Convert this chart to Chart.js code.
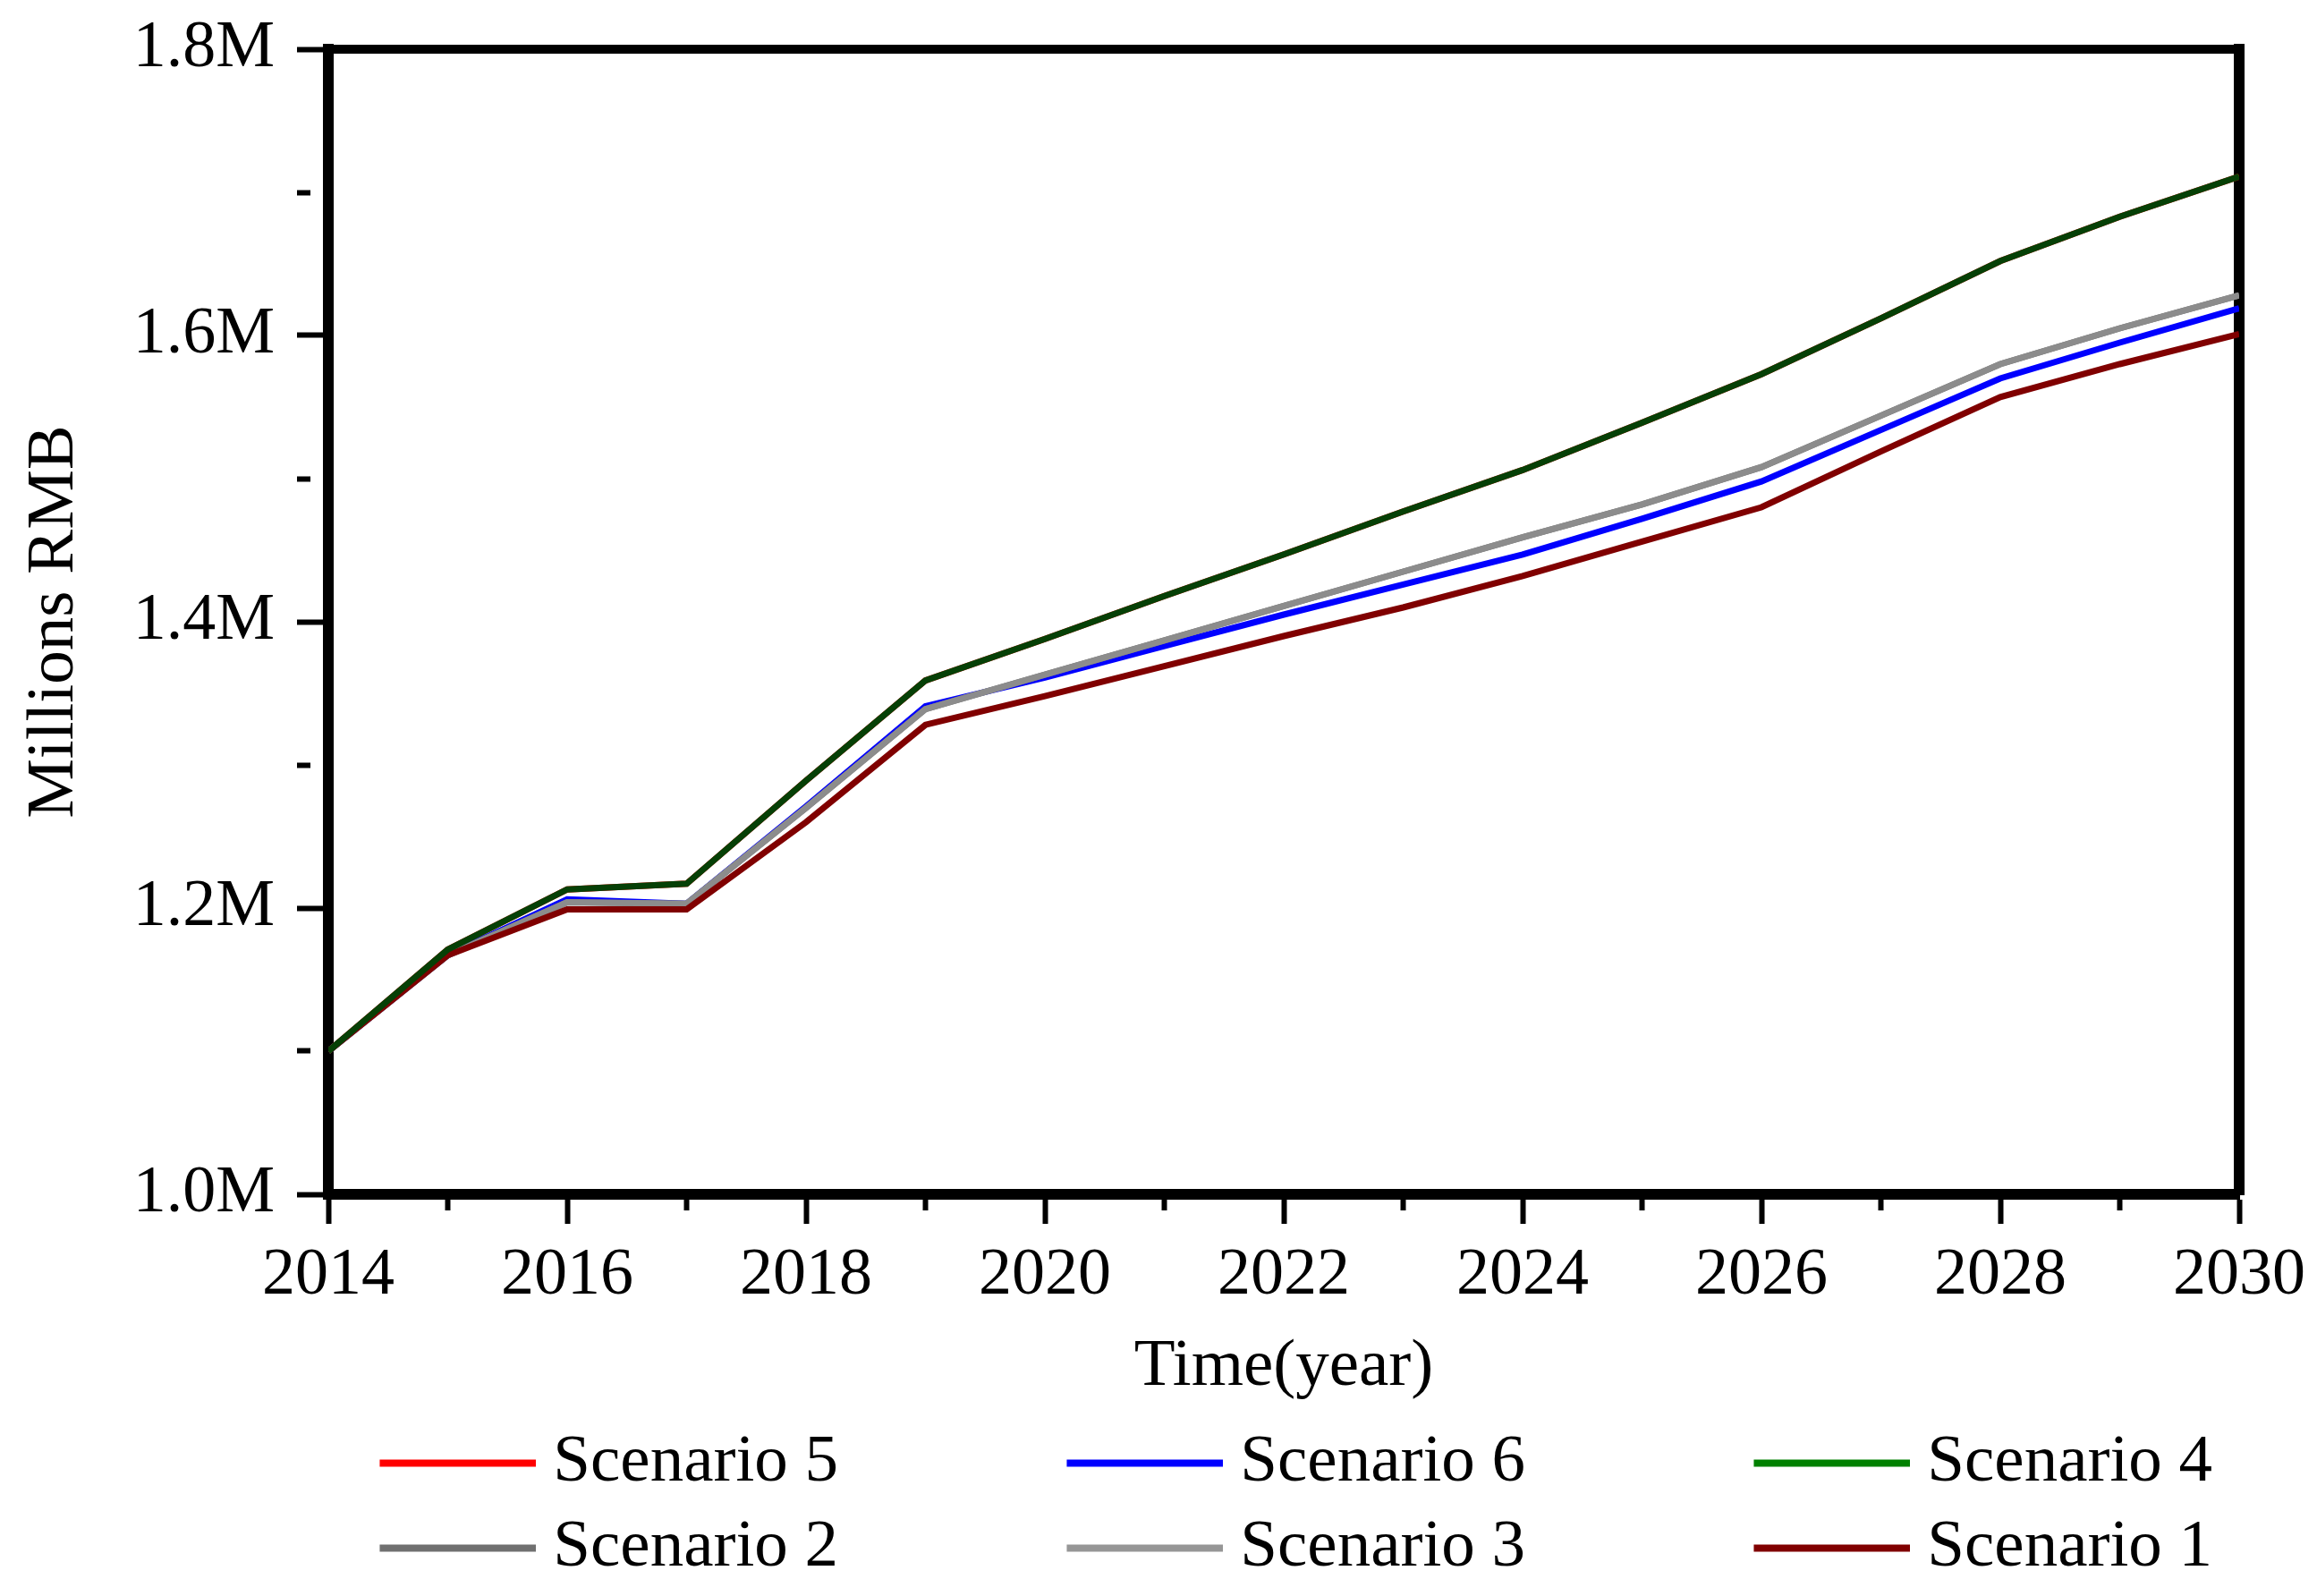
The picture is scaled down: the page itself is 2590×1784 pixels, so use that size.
<!DOCTYPE html>
<html>
<head>
<meta charset="utf-8">
<script src="https://cdn.jsdelivr.net/npm/chart.js@4.4.1/dist/chart.umd.min.js"></script>
<style>
html,body{margin:0;padding:0;background:#ffffff;}
#wrap{width:2590px;height:1784px;}
</style>
</head>
<body>
<div id="wrap"><canvas id="c" width="2590" height="1784"></canvas></div>
<script>
// ---------- data ----------
const years = [2014,2015,2016,2017,2018,2019,2020,2021,2022,2023,2024,2025,2026,2027,2028,2029,2030];

const scenario4 = [1.100,1.171,1.213,1.217,1.289,1.359,1.388,1.418,1.447,1.477,1.506,1.539,1.573,1.612,1.652,1.683,1.711];
const scenario5 = [1.100,1.171,1.213,1.217,1.289,1.359,1.388,1.418,1.447,1.477,1.506,1.539,1.573,1.612,1.652,1.683,1.711];
const scenario3 = [1.100,1.167,1.204,1.203,1.270,1.339,1.363,1.387,1.411,1.435,1.459,1.482,1.508,1.544,1.580,1.605,1.628];
const scenario2 = [1.100,1.167,1.204,1.203,1.270,1.339,1.363,1.387,1.411,1.435,1.459,1.482,1.508,1.544,1.580,1.605,1.628];
const scenario6 = [1.100,1.167,1.206,1.203,1.271,1.341,1.361,1.383,1.405,1.426,1.447,1.472,1.498,1.534,1.570,1.595,1.619];
const scenario1 = [1.100,1.167,1.199,1.199,1.260,1.328,1.348,1.369,1.390,1.410,1.432,1.456,1.480,1.519,1.557,1.580,1.601];

const seriesNames = ['Scenario 5','Scenario 6','Scenario 4','Scenario 2','Scenario 3','Scenario 1'];

const xTickValues = [2014,2016,2018,2020,2022,2024,2026,2028,2030];
const xTickLabels = ['2014','2016','2018','2020','2022','2024','2026','2028','2030'];
const yTickValues = [1.0,1.2,1.4,1.6,1.8];
const yTickLabels = ['1.0M','1.2M','1.4M','1.6M','1.8M'];

// ---------- styles ----------
const FONT = "'Liberation Serif','Times New Roman',serif";
const lineColors   = ['#ff0000','#0000ff','#064006','#707070','#8c8c8c','#800000'];
const legendColors = ['#ff0000','#0000ff','#008000','#707070','#969696','#800000'];
const drawOrder    = [5,4,0,3,2,1];   // higher = drawn first (underneath)

const LEG_FONT = 75, LEG_PAD = 20, LEG_SPACING = 768, LEG_LINE = 175, LEG_GAP = 19, LEG_THICK = 8;
const LEGEND_SHIFT = 36;

const mctx = document.createElement('canvas').getContext('2d');
mctx.font = LEG_FONT + "px " + FONT;
const textW = mctx.measureText('Scenario 5').width;
const LEG_W = LEG_SPACING - LEG_FONT/2 - textW - LEG_PAD;
const LEG_EXTRA = LEG_FONT/2 - LEG_GAP;

function legendImage(color){
  const cv = document.createElement('canvas');
  cv.width = Math.round(LEG_W + 2*LEG_EXTRA);
  cv.height = LEG_THICK + 2;
  const g = cv.getContext('2d');
  g.fillStyle = color;
  g.fillRect(cv.width - LEG_LINE, 1, LEG_LINE, LEG_THICK);
  return cv;
}
const legendImgs = legendColors.map(legendImage);

const seriesData = [scenario5, scenario6, scenario4, scenario2, scenario3, scenario1];

const datasets = seriesNames.map((name, i) => ({
  label: name,
  data: years.map((y, k) => ({x: y, y: seriesData[i][k]})),
  borderColor: lineColors[i],
  backgroundColor: lineColors[i],
  borderWidth: 7,
  pointRadius: 0,
  tension: 0,
  fill: false,
  order: drawOrder[i]
}));

function findLabel(vals, labels, v){
  for (let i = 0; i < vals.length; i++) if (Math.abs(vals[i] - v) < 1e-6) return labels[i];
  return '';
}

Chart.defaults.font.family = FONT;
Chart.defaults.color = '#000';

const legendShift = {
  id: 'legendShift',
  afterLayout(chart){
    const lg = chart.legend;
    if (lg) { lg.left += LEGEND_SHIFT; lg.right += LEGEND_SHIFT; }
  }
};

new Chart(document.getElementById('c'), {
  type: 'line',
  data: { datasets },
  plugins: [legendShift],
  options: {
    responsive: false,
    devicePixelRatio: 1,
    animation: false,
    layout: { padding: { top: 55, left: 0, right: 0, bottom: 6 } },
    plugins: {
      tooltip: { enabled: false },
      legend: {
        position: 'bottom',
        align: 'center',
        fullSize: true,
        labels: {
          usePointStyle: true,
          pointStyleWidth: LEG_W,
          boxHeight: 10,
          padding: LEG_PAD,
          color: '#000',
          font: { size: LEG_FONT, family: FONT },
          generateLabels: (chart) => chart.data.datasets.map((ds, i) => ({
            text: ds.label,
            pointStyle: legendImgs[i],
            fillStyle: legendColors[i],
            strokeStyle: legendColors[i],
            lineWidth: 0,
            hidden: false,
            datasetIndex: i,
            fontColor: '#000'
          }))
        }
      }
    },
    scales: {
      x: {
        type: 'linear',
        position: 'bottom',
        min: 2014, max: 2030,
        ticks: {
          stepSize: 1, autoSkip: false, maxRotation: 0, padding: 14,
          font: { size: 74, family: FONT, lineHeight: 1.2 },
          color: '#000',
          callback: (v) => findLabel(xTickValues, xTickLabels, v)
        },
        grid: {
          display: true, drawOnChartArea: false, drawTicks: true,
          tickLength: 33, tickWidth: 6, tickColor: '#000',
          tickBorderDash: (c) => (c.tick && Math.round(c.tick.value) % 2 !== 0) ? [12, 1000] : []
        },
        border: { display: true, width: 12, color: '#000' },
        title: {
          display: true, text: 'Time(year)', color: '#000',
          font: { size: 75, family: FONT, lineHeight: 1.2 },
          padding: { top: 0, bottom: 5 }
        },
        afterFit: (s) => { s.height = 243; s.paddingRight = 87; }
      },
      y: {
        type: 'linear',
        position: 'left',
        min: 1.0, max: 1.8,
        ticks: {
          stepSize: 0.1, padding: 25,
          font: { size: 74, family: FONT, lineHeight: 1.2 },
          color: '#000',
          callback: (v) => findLabel(yTickValues, yTickLabels, v)
        },
        grid: {
          display: true, drawOnChartArea: false, drawTicks: true,
          tickLength: 35, tickWidth: 6, tickColor: '#000',
          tickBorderDash: (c) => (c.tick && Math.round(c.tick.value * 10) % 2 !== 0) ? [15, 1000] : []
        },
        border: { display: true, width: 12, color: '#000' },
        title: {
          display: true, text: 'Millions RMB', color: '#000',
          font: { size: 75, family: FONT, lineHeight: 1.2 },
          padding: { top: 16, bottom: 0 }
        },
        afterFit: (s) => { s.width = 367; s.paddingTop = 0; s.paddingBottom = 0; }
      },
      x2: {
        type: 'linear', position: 'top', min: 2014, max: 2030,
        ticks: { display: false },
        grid: { display: false, drawTicks: false },
        border: { display: true, width: 10, color: '#000' },
        afterFit: (s) => { s.height = 0; s.paddingLeft = 0; s.paddingRight = 0; }
      },
      y2: {
        type: 'linear', position: 'right', min: 1.0, max: 1.8,
        ticks: { display: false },
        grid: { display: false, drawTicks: false },
        border: { display: true, width: 12, color: '#000' },
        afterFit: (s) => { s.width = 0; s.paddingTop = 0; s.paddingBottom = 0; }
      }
    }
  }
});
</script>
</body>
</html>
